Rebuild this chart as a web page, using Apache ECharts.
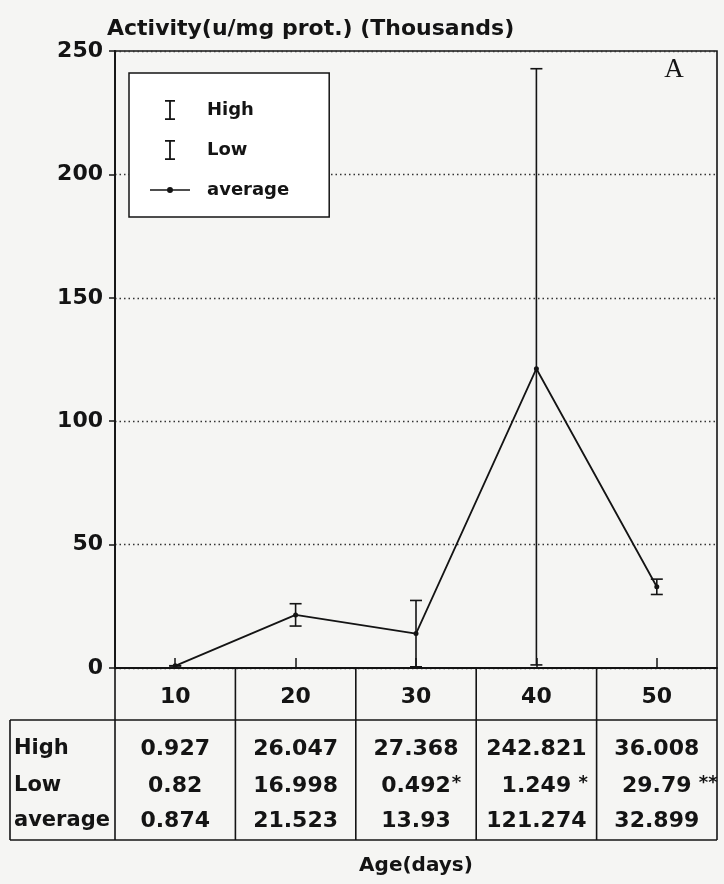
<!DOCTYPE html>
<html>
<head>
<meta charset="utf-8">
<script src="https://cdn.jsdelivr.net/npm/echarts@6/dist/echarts.min.js"></script>
<style>
html,body{margin:0;padding:0;background:#f5f5f3;}
#c{width:724px;height:884px;}
</style>
</head>
<body>
<div id="c"></div>
<script>
// ---- data ----
const ages = ['10', '20', '30', '40', '50'];
const highValues = [0.927, 26.047, 27.368, 242.821, 36.008];
const lowValues = [0.82, 16.998, 0.492, 1.249, 29.79];
const averageValues = [0.874, 21.523, 13.93, 121.274, 32.899];
const highLabels = ['0.927', '26.047', '27.368', '242.821', '36.008'];
const lowLabels = ['0.82', '16.998', '0.492', '1.249', '29.79'];
const lowMarks = ['', '', '*', ' *', ' **'];
const averageLabels = ['0.874', '21.523', '13.93', '121.274', '32.899'];
const rowNames = ['High', 'Low', 'average'];
const yMin = 0, yMax = 250, yStep = 50;

// ---- style / layout ----
const FONT = 'DejaVu Sans';
const INK = '#141414';
const G = { left: 115, right: 7, top: 51, bottom: 216 };
const W = 724, H = 884;
const axisY = H - G.bottom;

const chart = echarts.init(document.getElementById('c'));

function errorRender(params, api) {
  const x = api.value(0);
  const p1 = api.coord([x, api.value(1)]);
  const p2 = api.coord([x, api.value(2)]);
  const hw = 6;
  const st = { stroke: INK, lineWidth: 1.6 };
  return {
    type: 'group',
    children: [
      { type: 'line', shape: { x1: p1[0], y1: p1[1], x2: p2[0], y2: p2[1] }, style: st },
      { type: 'line', shape: { x1: p2[0] - hw, y1: p2[1], x2: p2[0] + hw, y2: p2[1] }, style: st }
    ]
  };
}

const iconI = 'path://M0,0H10V1.8H5.9V18.2H10V20H0V18.2H4.1V1.8H0Z';
const iconAvg = 'path://M0,2.2H40V3.8H0Z M23,3 A3,3 0 1 1 17,3 A3,3 0 1 1 23,3Z';

const option = {
  backgroundColor: '#f5f5f3',
  animation: false,
  grid: {
    left: G.left, right: G.right, top: G.top, bottom: G.bottom,
    show: true, borderColor: INK, borderWidth: 1.6, backgroundColor: 'transparent'
  },
  legend: {
    left: 129, top: 73,
    orient: 'vertical',
    itemWidth: 40, itemHeight: 20, itemGap: 20,
    padding: [27, 40, 17, 21],
    borderColor: INK, borderWidth: 1.5, backgroundColor: '#ffffff',
    selectedMode: false,
    textStyle: { fontFamily: FONT, fontWeight: 'bold', fontSize: 18, color: INK, padding: [0, 0, 0, 12], lineHeight: 20 },
    data: [
      { name: 'High', icon: iconI },
      { name: 'Low', icon: iconI },
      { name: 'average', icon: iconAvg }
    ]
  },
  xAxis: {
    type: 'category',
    data: ages,
    boundaryGap: true,
    name: 'Age(days)',
    nameLocation: 'middle',
    nameGap: 198,
    nameTextStyle: { fontFamily: FONT, fontWeight: 'bold', fontSize: 20, color: INK, verticalAlign: 'middle' },
    axisLine: { lineStyle: { color: INK, width: 1.8 } },
    axisTick: { show: true, inside: true, alignWithLabel: true, length: 10, lineStyle: { color: INK, width: 1.5 } },
    axisLabel: { fontFamily: FONT, fontWeight: 'bold', fontSize: 22, color: INK, margin: 29, verticalAlign: 'middle' },
    splitLine: { show: false }
  },
  yAxis: {
    type: 'value',
    min: yMin, max: yMax, interval: yStep,
    name: 'Activity(u/mg prot.) (Thousands)',
    nameLocation: 'end',
    nameGap: 6,
    nameTextStyle: { fontFamily: FONT, fontWeight: 'bold', fontSize: 22, color: INK, align: 'left', verticalAlign: 'bottom', padding: [0, 0, 0, -8] },
    axisLine: { show: true, lineStyle: { color: INK, width: 1.8 } },
    axisTick: { show: true, inside: false, length: 6, lineStyle: { color: INK, width: 1.5 } },
    axisLabel: { fontFamily: FONT, fontWeight: 'bold', fontSize: 22, color: INK, margin: 12 },
    splitLine: { show: true, lineStyle: { type: [1.5, 3], color: '#333', width: 1.3 } }
  },
  series: [
    {
      name: 'High', type: 'custom', renderItem: errorRender,
      itemStyle: { color: INK },
      encode: { x: 0, y: [1, 2] },
      data: ages.map((c, i) => [i, averageValues[i], highValues[i]]),
      z: 3
    },
    {
      name: 'Low', type: 'custom', renderItem: errorRender,
      itemStyle: { color: INK },
      encode: { x: 0, y: [1, 2] },
      data: ages.map((c, i) => [i, averageValues[i], lowValues[i]]),
      z: 3
    },
    {
      name: 'average', type: 'line',
      data: averageValues,
      symbol: 'circle', symbolSize: 5,
      itemStyle: { color: INK },
      lineStyle: { color: INK, width: 1.8 },
      z: 4
    }
  ]
};
chart.setOption(option);

// ---- data table below the axis ----
const centers = ages.map((c, i) => chart.convertToPixel({ xAxisIndex: 0 }, i));
const band = centers.length > 1 ? centers[1] - centers[0] : 120;
const xL = G.left, xR = W - G.right;
const tableLeft = 10, tableTop = 720, tableBottom = 840;
const rowY = [749, 786, 821];
const lineSt = { stroke: INK, lineWidth: 1.6 };
const els = [];
function hline(x1, x2, y) { els.push({ type: 'line', shape: { x1: x1, y1: y, x2: x2, y2: y }, style: lineSt, silent: true }); }
function vline(x, y1, y2) { els.push({ type: 'line', shape: { x1: x, y1: y1, x2: x, y2: y2 }, style: lineSt, silent: true }); }
hline(tableLeft, xR, tableTop);
hline(tableLeft, xR, tableBottom);
vline(tableLeft, tableTop, tableBottom);
vline(xL, axisY, tableBottom);
for (let i = 1; i < centers.length; i++) vline(centers[i] - band / 2, axisY, tableBottom);
vline(xR, axisY, tableBottom);

const tFont = { fontFamily: FONT, fontWeight: 'bold', fontSize: 22, fill: INK };
rowNames.forEach((n, r) => {
  els.push({ type: 'text', x: 14, y: rowY[r], silent: true,
    style: Object.assign({ text: n, align: 'left', verticalAlign: 'middle' }, tFont, { fontSize: 21 }) });
});
const cnv = document.createElement('canvas').getContext('2d');
cnv.font = 'bold 22px "DejaVu Sans"';
const rows = [highLabels, lowLabels, averageLabels];
rows.forEach((vals, r) => {
  vals.forEach((v, i) => {
    els.push({ type: 'text', x: centers[i], y: rowY[r], silent: true,
      style: Object.assign({ text: v, align: 'center', verticalAlign: 'middle' }, tFont) });
    if (r === 1 && lowMarks[i]) {
      const w = cnv.measureText(v).width;
      els.push({ type: 'text', x: centers[i] + w / 2 + 1, y: rowY[r] - 3, silent: true,
        style: { text: lowMarks[i], align: 'left', verticalAlign: 'middle', fontFamily: FONT, fontWeight: 'bold', fontSize: 18, fill: INK } });
    }
  });
});
// panel letter
els.push({ type: 'text', x: 674, y: 70, silent: true,
  style: { text: 'A', align: 'center', verticalAlign: 'middle', fontFamily: 'Liberation Serif', fontSize: 27, fill: INK } });

chart.setOption({ graphic: els });
</script>
</body>
</html>
